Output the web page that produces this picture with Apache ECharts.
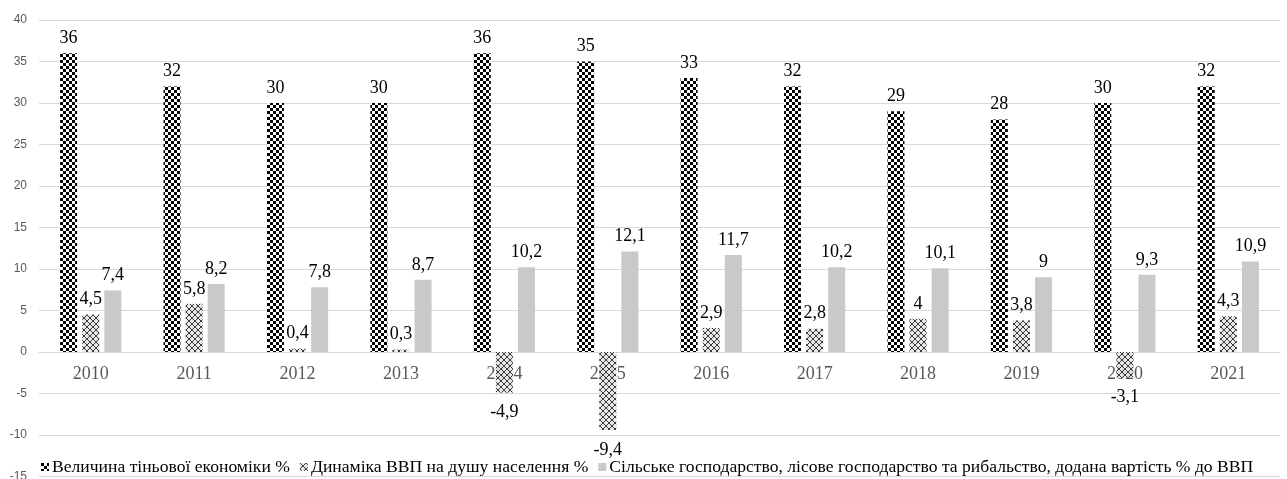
<!DOCTYPE html>
<html>
<head>
<meta charset="utf-8">
<script src="https://cdn.jsdelivr.net/npm/echarts@6/dist/echarts.min.js"></script>
<style>
html,body{margin:0;padding:0;background:#fff;}
#c{width:1287px;height:479px;}
</style>
</head>
<body>
<div id="c"></div>
<script>
const years = ['2010','2011','2012','2013','2014','2015','2016','2017','2018','2019','2020','2021'];
const shadowEconomy = [36, 32, 30, 30, 36, 35, 33, 32, 29, 28, 30, 32];
const gdpPerCapita = [4.5, 5.8, 0.4, 0.3, -4.9, -9.4, 2.9, 2.8, 4, 3.8, -3.1, 4.3];
const agriculture = [7.4, 8.2, 7.8, 8.7, 10.2, 12.1, 11.7, 10.2, 10.1, 9, 9.3, 10.9];
const seriesNames = [
  'Величина тіньової економіки %',
  'Динаміка ВВП на душу населення %',
  'Сільське господарство, лісове господарство та рибальство, додана вартість % до ВВП'
];

function checker(){
  const c=document.createElement('canvas'); c.width=6; c.height=6;
  const g=c.getContext('2d');
  g.fillStyle='#fff'; g.fillRect(0,0,6,6);
  g.fillStyle='#000'; g.fillRect(0,0,3,3); g.fillRect(3,3,3,3);
  return c;
}
function hatch(){
  const c=document.createElement('canvas'); c.width=6; c.height=6;
  const g=c.getContext('2d');
  g.fillStyle='rgba(228,228,228,0.85)'; g.fillRect(0,0,6,6);
  g.strokeStyle='#3a3a3a'; g.lineWidth=1;
  g.beginPath(); g.moveTo(0,0); g.lineTo(6,6); g.moveTo(6,0); g.lineTo(0,6); g.stroke();
  return c;
}
const fmt = p => String(p.value).replace('.', ',');
const labelBase = {show:true, formatter:fmt, fontFamily:'Liberation Serif', fontSize:18, color:'#000', distance:6};

const chart = echarts.init(document.getElementById('c'), null, {renderer:'canvas'});
chart.setOption({
  animation:false,
  backgroundColor:'#fff',
  grid:{left:39, right:7, top:20, bottom:2.5, containLabel:false, outerBoundsMode:'none'},
  legend:{
    left:36, top:453, itemWidth:8, itemHeight:8, itemGap:10, icon:'rect',
    textStyle:{fontFamily:'Liberation Serif', fontSize:17.6, color:'#000', padding:[0,0,0,-2]},
    data:seriesNames
  },
  xAxis:{
    type:'category', data:years, position:'bottom', offset:-124.5,
    axisTick:{show:false},
    axisLine:{onZero:false, lineStyle:{color:'#d9d9d9', width:1}},
    axisLabel:{fontFamily:'Liberation Serif', fontSize:18, color:'#595959', margin:13}
  },
  yAxis:{
    type:'value', min:-15, max:40, interval:5,
    axisLine:{show:false}, axisTick:{show:false},
    splitLine:{lineStyle:{color:'#d9d9d9', width:1}},
    axisLabel:{fontFamily:'Liberation Sans', fontSize:12, color:'#595959', margin:12}
  },
  series:[
    {name:seriesNames[0], type:'bar', data:shadowEconomy, barWidth:17, barGap:'30%',
     itemStyle:{color:{image:checker(), repeat:'repeat'}},
     label:Object.assign({position:'top'}, labelBase)},
    {name:seriesNames[1], type:'bar', barWidth:17, barGap:'30%',
     data:gdpPerCapita.map(v=>({value:v, label:{position: v<0?'bottom':'top', distance: v<0?11:6}})),
     itemStyle:{color:{image:hatch(), repeat:'repeat'}},
     label:labelBase},
    {name:seriesNames[2], type:'bar', data:agriculture, barWidth:17, barGap:'30%',
     itemStyle:{color:'#c9c9c9'},
     label:Object.assign({position:'top'}, labelBase)}
  ]
});
</script>
</body>
</html>
